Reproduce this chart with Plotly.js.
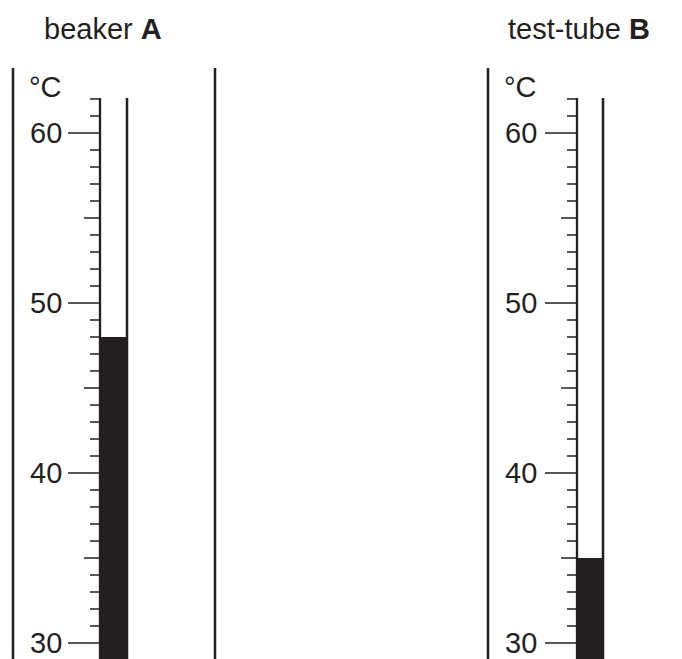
<!DOCTYPE html>
<html>
<head>
<meta charset="utf-8">
<script src="https://cdn.plot.ly/plotly-3.0.1.min.js"></script>
<style>html,body{margin:0;padding:0;background:#fff;}#chart{width:682px;height:659px;}</style>
</head>
<body>
<div id="chart"></div>
<script>
// ---- data ----
const vesselNames = ['beaker', 'test-tube'];
const vesselLabels = ['A', 'B'];
const readings = [48, 35];          // °C shown by each thermometer
const scaleMin = 30;
const scaleMax = 62;
const majorTickVals = [30, 40, 50, 60];
const majorTickText = ['30', '40', '50', '60'];
const unitText = '°C';

// ---- layout / style (pixel-like positions on a 0..682 x-axis) ----
const INK = '#231f20';
const FONT = 'Liberation Sans, Arial, sans-serif';
const pxPerDeg = 17;
const y30px = 643;            // pixel row of 30 °C
const H = 659;
const yMin = scaleMin - (H - y30px) / pxPerDeg;
const yMax = scaleMin + y30px / pxPerDeg;
const pxToVal = p => scaleMin + (y30px - p) / pxPerDeg;

const panels = [
  {scaleX: 100, tubeX: 127, wallL: 13, wallR: 215, labelX: 64, titleX: 103},
  {scaleX: 577, tubeX: 603, wallL: 488, wallR: 691, labelX: 539, titleX: 579}
];

const shapes = [];
const annotations = [];
const line = (x0, y0, x1, y1, w) => shapes.push({type: 'line', xref: 'x', yref: 'y', x0, y0, x1, y1, line: {color: INK, width: w}});

panels.forEach((p, i) => {
  // container walls
  line(p.wallL, yMin, p.wallL, pxToVal(68), 2.5);
  line(p.wallR, yMin, p.wallR, pxToVal(68), 2.5);
  // thermometer tube
  line(p.scaleX, yMin, p.scaleX, scaleMax + 0.06, 2.3);
  line(p.tubeX, yMin, p.tubeX, scaleMax + 0.06, 2.5);
  // ticks
  for (let v = scaleMin; v <= scaleMax; v++) {
    let len = 10;
    if (v % 10 === 0) len = 32; else if (v % 5 === 0) len = 16;
    line(p.scaleX - len, v, p.scaleX, v, 1.5);
  }
  majorTickVals.forEach((v, k) => {
    annotations.push({xref: 'x', yref: 'y', x: p.labelX, y: v, xanchor: 'right', yanchor: 'middle',
      text: majorTickText[k], showarrow: false, font: {family: FONT, size: 29, color: INK}});
  });
  annotations.push({xref: 'x', yref: 'y', x: p.labelX, y: pxToVal(87), xanchor: 'right', yanchor: 'middle',
    text: unitText, showarrow: false, font: {family: FONT, size: 29, color: INK}});
  annotations.push({xref: 'x', yref: 'y', x: p.titleX, y: pxToVal(29), xanchor: 'center', yanchor: 'middle',
    text: vesselNames[i] + ' <b>' + vesselLabels[i] + '</b>', showarrow: false,
    font: {family: FONT, size: 29, color: INK}});
});

const trace = {
  type: 'bar',
  x: panels.map(p => (p.scaleX + p.tubeX) / 2),
  y: readings.map(r => r - yMin),
  base: readings.map(() => yMin),
  width: panels.map(p => p.tubeX - p.scaleX),
  marker: {color: INK, line: {width: 0}},
  hoverinfo: 'skip'
};

const layout = {
  width: 682, height: 659,
  margin: {l: 0, r: 0, t: 0, b: 0},
  paper_bgcolor: '#fff', plot_bgcolor: '#fff',
  showlegend: false,
  xaxis: {range: [0, 682], visible: false, fixedrange: true},
  yaxis: {range: [yMin, yMax], visible: false, fixedrange: true},
  shapes, annotations
};

Plotly.newPlot('chart', [trace], layout, {staticPlot: true, displayModeBar: false});
</script>
</body>
</html>
